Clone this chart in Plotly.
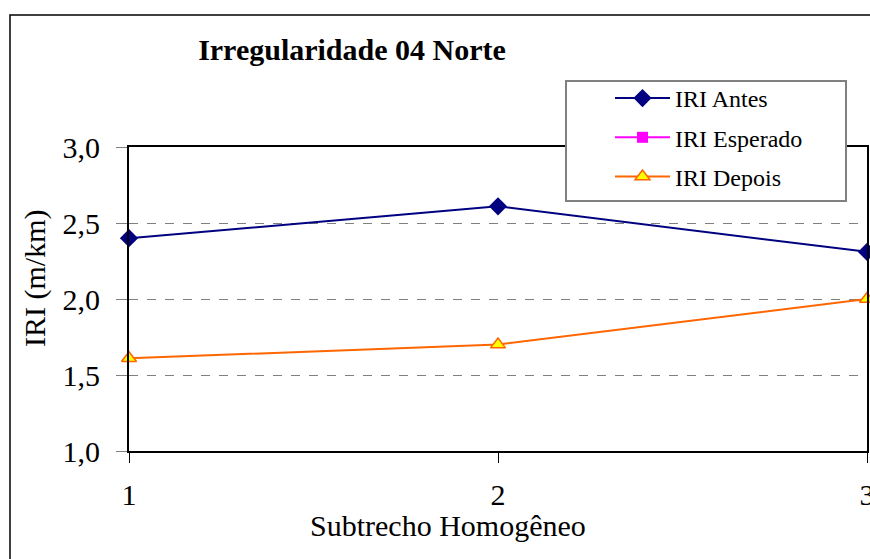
import plotly.graph_objects as go

categories = [1, 2, 3]
iri_antes = [2.4, 2.61, 2.31]
iri_esperado = [None, None, None]
iri_depois = [1.61, 1.70, 2.0]
y_ticks = [1.0, 1.5, 2.0, 2.5, 3.0]

FONT = "Times New Roman, Liberation Serif, serif"

# plot area on screen: x 129-867, y 147-451
L, T = 129, 147
W, H = 738, 304
FW, FH = 870, 559


def px(x):
    return (x - L) / W


def py(y):
    return (T + H - y) / H


fig = go.Figure()
fig.add_trace(go.Scatter(
    x=categories, y=iri_antes, name="IRI Antes", mode="lines+markers",
    line=dict(color="#000080", width=2),
    marker=dict(symbol="diamond", size=14, color="#000080"),
    legendgroup="a", cliponaxis=False))
fig.add_trace(go.Scatter(
    x=categories, y=iri_esperado, name="IRI Esperado", mode="lines+markers",
    line=dict(color="#FF00FF", width=2),
    marker=dict(symbol="square", size=11, color="#FF00FF"),
    legendgroup="b", cliponaxis=False))
fig.add_trace(go.Scatter(
    x=categories, y=iri_depois, name="IRI Depois", mode="lines+markers",
    line=dict(color="#FF6600", width=2),
    marker=dict(symbol="triangle-up", size=13, color="#FFFF00",
                line=dict(color="#FF6600", width=1.5)),
    legendgroup="c", cliponaxis=False))

fig.update_layout(
    width=FW, height=FH,
    margin=dict(l=L, r=FW - L - W, t=T, b=FH - T - H, autoexpand=False),
    paper_bgcolor="white", plot_bgcolor="white",
    separators=",.",
    font=dict(family=FONT, color="black"),
    title=dict(text="<b>Irregularidade 04 Norte</b>", x=352 / FW, xanchor="center",
               y=1 - 49 / FH, yanchor="middle", font=dict(size=30, family=FONT)),
    showlegend=True,
    legend=dict(x=px(610), y=py(76), xanchor="left", yanchor="top",
                borderwidth=0, bgcolor="rgba(0,0,0,0)",
                font=dict(size=24, family=FONT), tracegroupgap=5,
                traceorder="grouped", itemwidth=55),
    xaxis=dict(range=[1, 3], tickvals=categories, ticktext=["1", "2", "3"],
               automargin=False,
               showgrid=False, zeroline=False, showline=True, mirror=True,
               linecolor="black", linewidth=2, ticks="outside", ticklen=10,
               tickcolor="black", tickwidth=1, tickfont=dict(size=30, family=FONT),
               ticklabelstandoff=6, ticklabeloverflow="allow"),
    yaxis=dict(range=[1, 3], tickvals=y_ticks, tickformat=".1f",
               automargin=False,
               showgrid=True, gridcolor="#808080", griddash="dash", gridwidth=1,
               zeroline=False, showline=True, mirror=True,
               linecolor="black", linewidth=2, ticks="outside", ticklen=11,
               tickcolor="#808080", tickwidth=1, tickfont=dict(size=30, family=FONT),
               ticklabelstandoff=10),
    annotations=[
        dict(text="Subtrecho Homogêneo", xref="paper", yref="paper",
             x=px(447.5), y=py(525), xanchor="center", yanchor="middle",
             showarrow=False, font=dict(size=30, family=FONT)),
        dict(text="IRI (m/km)", xref="paper", yref="paper", textangle=-90,
             x=px(35), y=py(279), xanchor="center", yanchor="middle",
             showarrow=False, font=dict(size=30, family=FONT)),
    ],
    shapes=[
        dict(type="rect", xref="paper", yref="paper",
             x0=px(10), x1=1.2, y0=-0.6, y1=py(15),
             line=dict(color="black", width=1.5), fillcolor="rgba(0,0,0,0)",
             layer="below"),
        dict(type="rect", xref="paper", yref="paper",
             x0=px(566), x1=px(846), y0=py(201), y1=py(81),
             line=dict(color="#808080", width=2), fillcolor="white",
             layer="above"),
    ],
)

fig.write_html(
    "out.html",
    config={"responsive": False, "displayModeBar": False},
    post_script=(
        "document.documentElement.style.overflow='hidden';"
        "document.body.style.margin='0';document.body.style.overflow='hidden';"
    ),
)
